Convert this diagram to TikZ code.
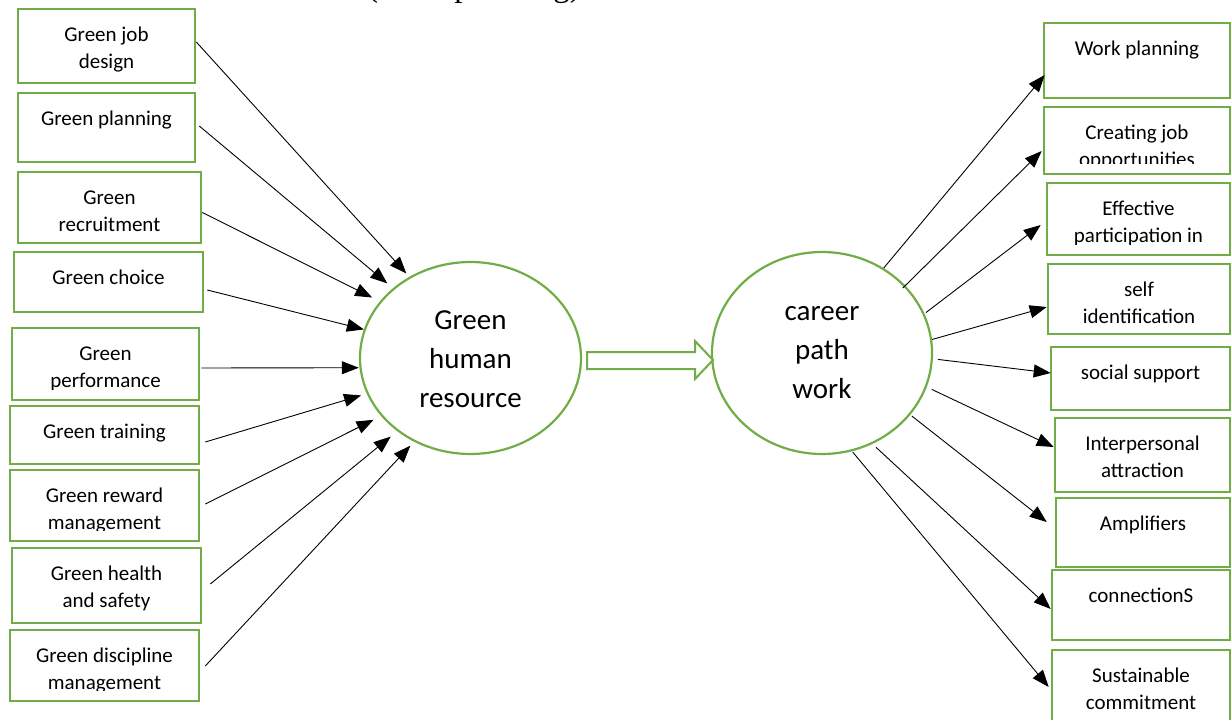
\documentclass[tikz,border=0pt]{standalone}
\usepackage{fontspec}
\setmainfont{Carlito}
\newfontfamily\timesf{Liberation Serif}
\usetikzlibrary{arrows.meta,shapes.geometric}
\definecolor{gr}{HTML}{70AD47}
\newcommand\mybox[6]{%
  \node[gbox, minimum width=#4-#2, minimum height=#5-#3] (#1) at ({(#2+#4)/2},{(#3+#5)/2}) {};
  \begin{scope}
    \clip ([xshift=1.3pt,yshift=-1.3pt]#1.north west) rectangle ([xshift=-1.3pt,yshift=11.5pt]#1.south east);
    \node[btxt] (#1t) at ([yshift=-15.5pt]#1.north) {#6};
  \end{scope}}
\begin{document}
\begin{tikzpicture}[x=1pt,y=-1pt,
  gbox/.style={draw=gr, line width=2.6pt, inner sep=0pt},
  btxt/.style={anchor=north, align=center, inner sep=0pt, font=\fontsize{21}{26.5}\selectfont},
  oval/.style={ellipse, draw=gr, line width=2.2pt, inner sep=0pt},
  otxt/.style={align=center, inner sep=0pt, font=\fontsize{29}{39}\selectfont},
  arr/.style={line width=0.9pt, -{Triangle[length=17pt,width=13pt]}},
  hollow/.style={draw=gr, line width=2pt, fill=white, line join=miter}
]
\useasboundingbox (0,0) rectangle (1232,720);
\clip (0,0) rectangle (1232,720);

% partially visible heading at the top edge
\node[anchor=base west, inner sep=0pt, font=\timesf\fontsize{33}{40}\selectfont] (ttl) at (367,-3) {(work planning)};

% left boxes
\mybox{l1}{18}{9}{195}{83}{\strut Green job\\\strut design}
\mybox{l2}{18}{93}{195}{162}{\strut Green planning}
\mybox{l3}{18}{172}{201}{243}{\strut Green\\\strut recruitment}
\mybox{l4}{14}{252}{203}{312}{\strut Green choice}
\mybox{l5}{12}{328}{199}{400}{\strut Green\\\strut performance}
\mybox{l6}{10}{406}{199}{464}{\strut Green training}
\mybox{l7}{10}{470}{199}{541}{\strut Green reward\\\strut management}
\mybox{l8}{12}{548}{201}{623}{\strut Green health\\\strut and safety}
\mybox{l9}{10}{630}{199}{701}{\strut Green discipline\\\strut management}

% right boxes
\mybox{r1}{1044}{23}{1230}{98}{\strut Work planning}
\mybox{r2}{1044}{107}{1230}{174}{\strut Creating job\\\strut opportunities}
\mybox{r3}{1047}{183}{1230}{255}{\strut Effective\\\strut participation in}
\mybox{r4}{1048}{264}{1230}{334}{\strut self\\\strut identification}
\mybox{r5}{1051}{347}{1230}{410}{\strut social support}
\mybox{r6}{1055}{418}{1230}{492}{\strut Interpersonal\\\strut attraction}
\mybox{r7}{1056}{498}{1230}{567}{\strut Amplifiers}
\mybox{r8}{1052}{570}{1230}{640}{\strut connectionS}
\mybox{r9}{1052}{650}{1230}{730}{\strut Sustainable\\\strut commitment}

% ellipses
\node[oval, minimum width=221pt, minimum height=192pt] (ghr) at (470.5,358) {};
\node[otxt] (ghrt) at ([yshift=-3pt]ghr.center) {\strut Green\\\strut human\\\strut resource};
\node[oval, minimum width=220pt, minimum height=202pt] (cpw) at (822,353) {};
\node[otxt] (cpwt) at ([yshift=1pt]cpw.center) {\strut career\\\strut path\\\strut work};

% hollow arrow between the ellipses
\draw[hollow] (587,352) -- (695,352) -- (695,341) -- (713,360) -- (695,379) -- (695,369) -- (587,369) -- cycle;

% arrows into Green human resource
\draw[arr, shorten >=4.4pt] ([yshift=4pt]l1.east) -- (ghr.127.8);
\draw[arr, shorten >=7.4pt] ([xshift=3pt,yshift=1.5pt]l2.east) -- (ghr.138.8);
\draw[arr, shorten >=8.6pt] ([yshift=-5pt]l3.east) -- (ghr.148.4);
\draw[arr] ([xshift=3pt,yshift=-8pt]l4.east) -- (ghr.165.5);
\draw[arr, shorten >=0.7pt] ([xshift=1pt,yshift=-4pt]l5.east) -- (ghr.185.2);
\draw[arr, shorten >=5.9pt] ([xshift=5pt,yshift=-7pt]l6.east) -- (ghr.199.9);
\draw[arr, shorten >=8.4pt] ([xshift=5pt,yshift=1.5pt]l7.east) -- (ghr.213);
\draw[arr, shorten >=8.4pt] ([xshift=8pt,yshift=1.5pt]l8.east) -- (ghr.225.5);
\draw[arr, shorten >=5.4pt] ([xshift=5pt,yshift=-0.5pt]l9.east) -- (ghr.236.8);

% arrows out of career path work
\draw[arr] (cpw.54.6) -- ([xshift=2pt,yshift=-14.5pt]r1.west);
\draw[arr, shorten <=-3.7pt] (cpw.39.4) -- ([xshift=-1pt,yshift=-10.5pt]r2.west);
\draw[arr, shorten <=1.8pt] (cpw.21.2) -- ([xshift=-5pt,yshift=-6pt]r3.west);
\draw[arr] (cpw.7.8) -- ([yshift=-8pt]r4.west);
\draw[arr, shorten <=5pt] (cpw.357.5) -- ([xshift=1pt,yshift=5.5pt]r5.west);
\draw[arr, shorten <=5.5pt] (cpw.342.2) -- ([yshift=8pt]r6.west);
\draw[arr, shorten <=1.9pt] (cpw.325.9) -- ([xshift=-8pt,yshift=10.5pt]r7.west);
\draw[arr, shorten <=4.9pt] (cpw.299.4) -- ([yshift=-4pt]r8.west);
\draw[arr, shorten <=1.1pt] (cpw.287.6) -- ([xshift=-2pt,yshift=3pt]r9.west);
\end{tikzpicture}
\end{document}
